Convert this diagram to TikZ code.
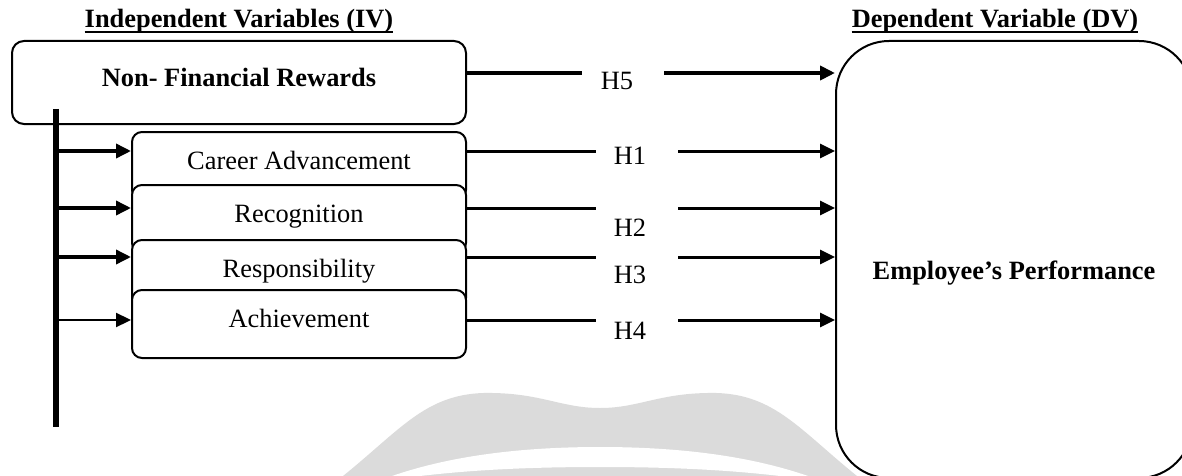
\documentclass[tikz,border=0pt]{standalone}
\usepackage{fontspec}
\setmainfont{Liberation Serif}
\usetikzlibrary{arrows.meta}
\begin{document}
\begin{tikzpicture}[x=1pt,y=-1pt,
  every node/.style={font=\fontsize{26.4}{30}\selectfont},
  boldtext/.style={font=\fontsize{26.4}{30}\selectfont\bfseries},
  subbox/.style={draw, line width=2pt, rounded corners=10pt, fill=white, inner sep=0pt,
    minimum width=334pt, text height=37pt, text depth=31pt},
  hlabel/.style={anchor=base, inner sep=0pt},
  titletext/.style={boldtext, anchor=base, inner sep=0pt},
  tipline/.style={-{Triangle[length=15pt,width=14pt]}},
  hline/.style={line width=3pt},
  branch/.style={line width=3.5pt, tipline},
  watermark/.style={fill=black!14, draw=none}
]
\useasboundingbox (0,0) rectangle (1182,476);
\clip (0,0) rectangle (1182,476);

% faint watermark
\path[watermark] (343,476) .. controls (400,430) and (425,395) .. (483,393)
  .. controls (540,392) and (560,408) .. (600,408)
  .. controls (640,408) and (660,392) .. (717,393)
  .. controls (775,395) and (800,430) .. (857,476) -- cycle;
\path[fill=white] (392,476) .. controls (450,456) and (520,447) .. (600,447)
  .. controls (680,447) and (750,456) .. (808,476) -- (780,476)
  .. controls (720,469) and (660,467) .. (600,467)
  .. controls (540,467) and (480,469) .. (420,476) -- cycle;

% titles
\node[titletext] (ivt) at (239,28) {Independent Variables (IV)};
\draw[line width=1.5pt] ([yshift=-4pt]ivt.base west) -- ([yshift=-4pt]ivt.base east);
\node[titletext] (dvt) at (995,28) {Dependent Variable (DV)};
\draw[line width=1.5pt] ([yshift=-4pt]dvt.base west) -- ([yshift=-4pt]dvt.base east);

% main boxes
\node[draw, line width=2pt, rounded corners=12pt, fill=white, inner sep=0pt,
  minimum width=454pt, text height=46pt, text depth=37pt, boldtext] (nfr) at (239,82.5)
  {Non- Financial Rewards};
\node[draw, line width=2pt, rounded corners=53pt, fill=white, inner sep=0pt,
  minimum width=356pt, text height=238pt, text depth=199pt, boldtext] (dv) at (1014,259.5)
  {Employee's Performance};

% sub boxes
\node[subbox] (ca)  at (299,166) {Career Advancement};
\node[subbox] (rec) at (299,219) {Recognition};
\node[subbox] (res) at (299,274) {Responsibility};
\node[subbox] (ach) at (299,324) {Achievement};

% vertical bar and branches
\coordinate (vtop) at (56,109);
\coordinate (vbot) at (56,427);
\coordinate (b1) at (56,151);
\coordinate (b2) at (56,208);
\coordinate (b3) at (56,257);
\coordinate (b4) at (56,320);
\draw[line width=6pt] (vtop) -- (vbot);
\draw[branch] (b1) -- (b1 -| ca.west);
\draw[branch] (b2) -- (b2 -| rec.west);
\draw[branch] (b3) -- (b3 -| res.west);
\draw[line width=2.3pt, tipline] (b4) -- (b4 -| ach.west);

% hypothesis labels
\node[hlabel] (h5) at (617,90) {H5};
\node[hlabel] (h1) at (630,164) {H1};
\node[hlabel] (h2) at (630,236) {H2};
\node[hlabel] (h3) at (630,283) {H3};
\node[hlabel] (h4) at (630,339) {H4};

% hypothesis connectors
\coordinate (l5) at (582,73);  \coordinate (r5) at (664,73);
\coordinate (l1) at (596,151); \coordinate (r1) at (678,151);
\coordinate (l2) at (596,208); \coordinate (r2) at (678,208);
\coordinate (l3) at (596,257); \coordinate (r3) at (678,257);
\coordinate (l4) at (596,320); \coordinate (r4) at (678,320);

\draw[line width=4pt] (nfr.east |- l5) -- (l5);
\draw[line width=4pt, tipline] (r5) -- (r5 -| dv.west);
\draw[hline] (ca.east |- l1) -- (l1);
\draw[hline, tipline] (r1) -- (r1 -| dv.west);
\draw[hline] (rec.east |- l2) -- (l2);
\draw[hline, tipline] (r2) -- (r2 -| dv.west);
\draw[hline] (res.east |- l3) -- (l3);
\draw[hline, tipline] (r3) -- (r3 -| dv.west);
\draw[hline] (ach.east |- l4) -- (l4);
\draw[hline, tipline] (r4) -- (r4 -| dv.west);
\end{tikzpicture}
\end{document}
